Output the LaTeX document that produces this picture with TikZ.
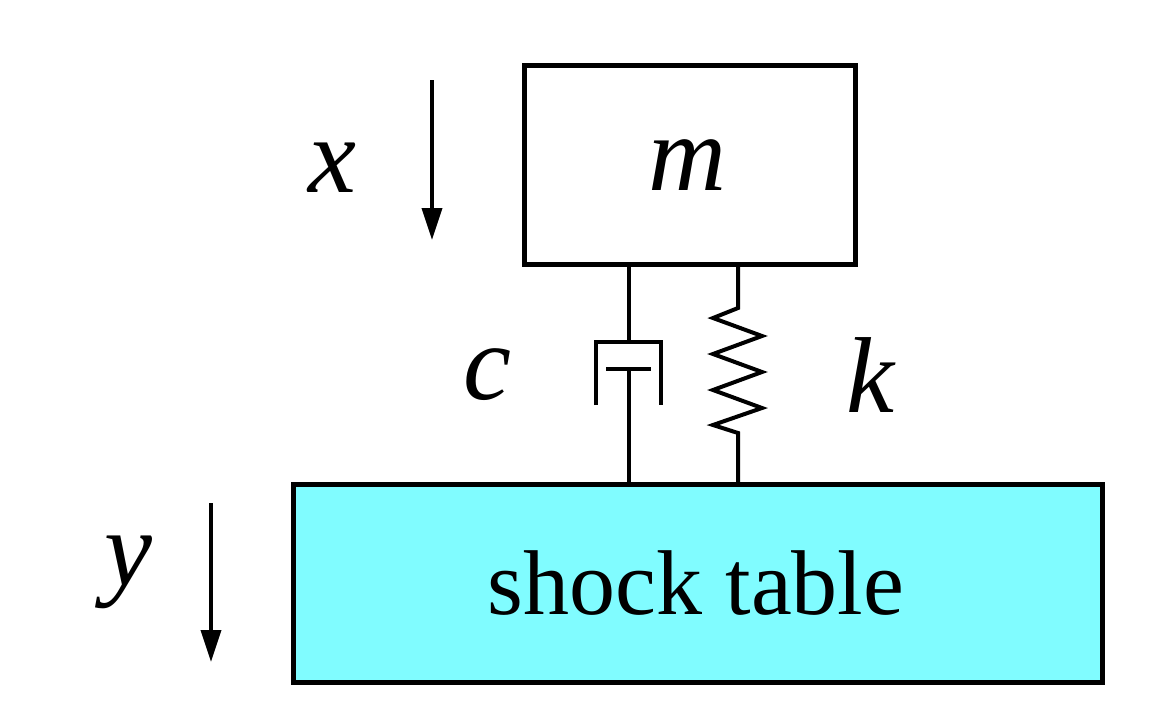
\documentclass[tikz,border=0pt]{standalone}
\usepackage{fontspec}
\setmainfont{Liberation Serif}
\usetikzlibrary{arrows.meta}
\definecolor{tablecyan}{HTML}{80FCFF}
\begin{document}
\begin{tikzpicture}[x=1pt,y=-1pt,line width=4pt,
  lbl/.style={font=\fontsize{108}{120}\selectfont\itshape},
  arr/.style={line width=3.5pt,-{Triangle[length=32pt,width=20pt]}}]
\useasboundingbox (0,0) rectangle (1152,726);
\node[draw,minimum width=331pt,minimum height=199pt,inner sep=0pt,anchor=north west,line width=4.5pt] (mass) at (522,63) {};
\node[lbl] (m) at (687,165) {m};
\node[draw,fill=tablecyan,minimum width=809pt,minimum height=198pt,inner sep=0pt,anchor=north west,line width=4.5pt] (table) at (291,482) {};
\node[font=\fontsize{92}{110}\selectfont] (st) at (696,583) {shock table};
% damper
\coordinate (d1) at (629,262); \coordinate (d2) at (629,342);
\coordinate (d3) at (629,369); \coordinate (d4) at (629,482);
\draw (d1) -- (d2);
\draw (596,405) -- (596,342) -- (661,342) -- (661,405);
\draw (606,369) -- (651,369);
\draw (d3) -- (d4);
% spring
\coordinate (s1) at (738,262); \coordinate (s2) at (738,482);
\draw[line join=miter] (s1) -- (738,308) -- (713,318) -- (762,336) -- (713,354) -- (762,372) -- (713,390) -- (762,408) -- (713,425) -- (738,433) -- (s2);
\node[lbl] (c) at (487,375) {c};
\node[lbl] (k) at (870,375) {k};
\node[lbl] (x) at (332,168) {x};
\node[lbl] (y) at (128,572) {y};
\coordinate (xa) at (432,80); \coordinate (xb) at (432,240);
\coordinate (ya) at (211,503); \coordinate (yb) at (211,662);
\draw[arr] (xa) -- (xb);
\draw[arr] (ya) -- (yb);
\end{tikzpicture}
\end{document}
